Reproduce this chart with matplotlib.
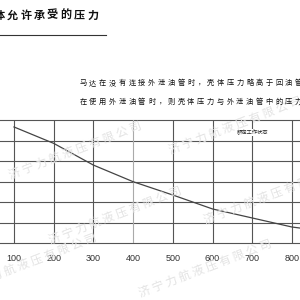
import matplotlib
matplotlib.use('Agg')
import matplotlib.pyplot as plt

plt.rcParams['font.family'] = ['Noto Sans CJK SC', 'DejaVu Sans']

# speed (x) and housing pressure (y in grid rows)
speed = [100, 200, 300, 400, 500, 600, 700, 800, 820]
housing_p = [5.66, 4.86, 3.80, 2.99, 2.34, 1.66, 1.22, 0.78, 0.73]
x_ticks = [100, 200, 300, 400, 500, 600, 700, 800]
y_rows = [0, 1, 2, 3, 4, 5, 6]

title = "壳体允许承受的压力"
line1 = "马达在没有连接外泄油管时，壳体压力略高于回油管"
line2 = "在使用外泄油管时，则壳体压力与外泄油管中的压力"
label = "额定工作状态"
watermark = " ".join("济宁力航液压有限公司")

fig = plt.figure(figsize=(3, 3), dpi=100)
fig.patch.set_facecolor('white')

def px(x, y):
    # pixel position (from top-left) -> figure fraction
    return x / 300.0, 1 - y / 300.0

# watermark, faint and slanted
for cx, cy in [(75, 150), (235, 125), (115, 215), (270, 195), (30, 262), (205, 268)]:
    fx, fy = px(cx, cy)
    fig.text(fx, fy, watermark, fontsize=8.5, color='#e3e3e3', rotation=21,
             ha='center', va='center', zorder=0)

# title, wide letter spacing
for i, ch in enumerate(title):
    fx, fy = px(-14.5 + i * 13.4, 15)
    fig.text(fx, fy, ch, fontsize=8, color='#111111', ha='center', va='center',
             weight='bold')
fig.add_artist(plt.Line2D([0, 106 / 300], [1 - 34.5 / 300] * 2, color='#333333',
                          lw=0.8, transform=fig.transFigure))

# description lines
for row, txt in [(83, line1), (102, line2)]:
    for i, ch in enumerate(txt):
        fx, fy = px(83 + i * 9.8, row)
        fig.text(fx, fy, ch, fontsize=5.2, color='#111111', ha='center', va='center')

ax = fig.add_axes([0, 0.19, 1, 0.41])
ax.set_xlim(64.75, 820.2)
ax.set_ylim(0, 6)
for s in ax.spines.values():
    s.set_visible(False)

for y in y_rows:
    ax.axhline(y, color='#555555', lw=0.8, clip_on=False, zorder=1)
for x in x_ticks:
    c = '#aaaaaa' if x == 400 else '#555555'
    ax.axvline(x, color=c, lw=0.8, zorder=1)

ax.plot(speed, housing_p, color='#444444', lw=0.9, zorder=3)

ax.text(701, 5.37, label, fontsize=3.8, color='#222222', ha='center', va='center',
        bbox=dict(fc='white', ec='none', pad=0.6), zorder=4)

ax.set_yticks([])
ax.set_xticks(x_ticks)
ax.set_xticklabels([str(v) for v in x_ticks], family=['Liberation Sans', 'DejaVu Sans'],
                   fontsize=6.5, color='#333333')
ax.tick_params(axis='x', length=0, pad=8)

fig.savefig('out.png', dpi=100, facecolor='white')
